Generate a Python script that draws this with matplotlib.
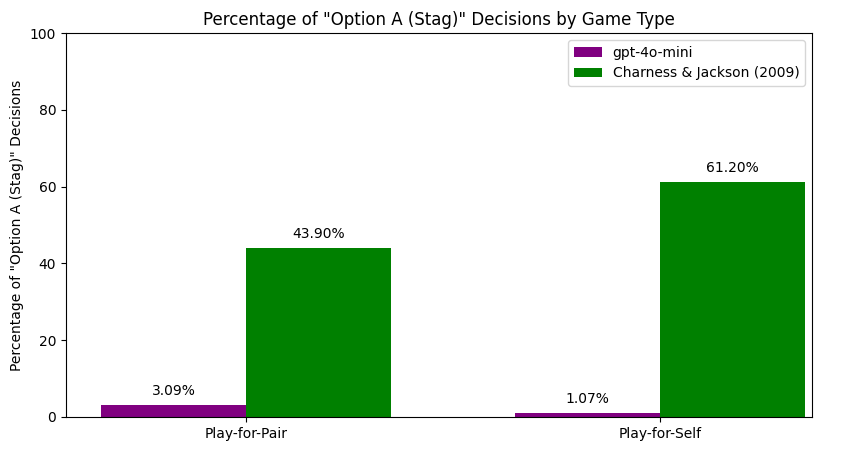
import matplotlib
matplotlib.use("Agg")
import matplotlib.pyplot as plt
import numpy as np

categories = ["Play-for-Pair", "Play-for-Self"]
gpt_values = [3.09, 1.07]
cj_values = [43.90, 61.20]
series_names = ["gpt-4o-mini", "Charness & Jackson (2009)"]

fig = plt.figure(figsize=(8.5, 4.51), dpi=100)
ax = fig.add_axes([0.0776, 0.0754, 0.8776, 0.8514])
x = np.arange(len(categories))
w = 0.35
b1 = ax.bar(x - w/2, gpt_values, w, color="purple", label=series_names[0])
b2 = ax.bar(x + w/2, cj_values, w, color="green", label=series_names[1])
for bars in (b1, b2):
    for r in bars:
        ax.annotate(f"{r.get_height():.2f}%", (r.get_x() + r.get_width()/2, r.get_height()),
                    xytext=(0, 5), textcoords="offset points", ha="center", va="bottom")
ax.set_xticks(x)
ax.set_xticklabels(categories)
ax.set_ylim(0, 100)
ax.set_xlim(-0.435, 1.367)
ax.set_ylabel('Percentage of "Option A (Stag)" Decisions')
ax.set_title('Percentage of "Option A (Stag)" Decisions by Game Type')
ax.legend(loc="upper right")
fig.savefig("out.png", dpi=100)
